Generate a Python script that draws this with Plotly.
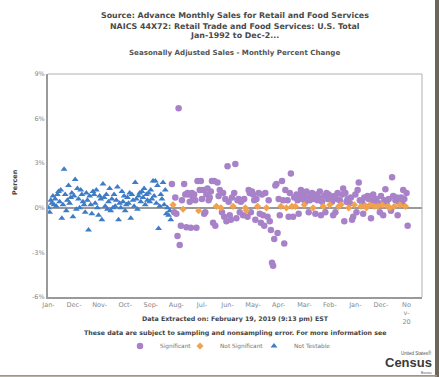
import plotly.graph_objects as go

# ---- data ----
# Not Testable (Jan-1992 .. Mar-2001), monthly % change
nt_1992 = [0.0, -0.3, 0.5, 0.3, 0.8, 0.2, 0.6, 0.1, 0.9, 1.1, 0.4, 1.2]
nt_1993 = [-0.7, 0.2, 2.6, 0.9, -0.2, 0.5, 1.5, 0.3, 0.7, 1.0, -0.6, 0.8]
nt_1994 = [1.9, -0.1, 1.3, 0.6, 0.0, 1.2, 0.9, 0.4, 0.2, -0.3, 1.0, 0.5]
nt_1995 = [-1.5, 0.8, 0.2, -0.4, 1.1, 0.9, 0.3, 1.2, 0.0, -0.5, 0.8, 0.6]
nt_1996 = [-0.8, 1.6, 0.7, 0.1, 0.9, -0.1, 0.4, 1.3, -0.2, 0.6, 0.0, 0.9]
nt_1997 = [0.1, 0.5, 1.4, -0.8, 0.3, 0.0, 1.1, 0.4, 0.8, -0.2, 0.2, 0.7]
nt_1998 = [0.3, 1.0, -0.7, 0.9, 0.5, 0.1, 1.7, 0.6, -0.1, 0.8, 1.0, 0.4]
nt_1999 = [1.1, 0.7, 1.3, 0.2, 0.9, 0.5, 1.0, 0.4, 1.2, 0.6, 1.8, 0.8]
nt_2000 = [1.8, 0.3, 1.5, -1.4, 0.1, 0.9, 0.6, 1.7, 0.2, 1.2, -0.4, 0.0]
nt_2001 = [-0.5, -0.2, -0.8]
not_testable = (nt_1992 + nt_1993 + nt_1994 + nt_1995 + nt_1996 + nt_1997
                + nt_1998 + nt_1999 + nt_2000 + nt_2001)

# Tested months (Apr-2001 .. Dec-2018): value and significance flag
tested_vals = [
    1.6, 0.2, -0.3, 0.7, -0.4, -1.9, 6.7, -2.5, -1.2, 0.5,
    -0.1, 1.6, 0.9, -1.3, 1.0, 0.9, 0.4, -1.35, 1.0, 0.7,
    0.9, 0.5, -1.35, 1.8, -0.2, 1.2, 1.8, 0.6, 1.2, -0.4,
    -0.3, 0.9, 1.3, 0.5, 0.7, 1.1, 1.8, -1.0, 1.8, -1.2,
    0.1, 1.7, 0.8, 1.2, 0.0, -0.3, 1.0, -0.6, 0.6, -0.9,
    2.8, 0.4, -0.5, -0.8, 0.7, 0.1, 1.0, 2.95, -0.7, 0.5,
    0.6, -0.3, 0.4, 0.5, -0.5, 0.6, 0.0, -0.2, -0.6, 1.2,
    1.0, -0.3, 1.1, 0.9, 0.5, -0.8, 0.6, 0.1, 1.0, -0.4,
    -1.0, 0.9, -0.5, -1.2, 1.0, 0.0, -0.6, 0.5, -0.9, -1.5,
    -3.7, -3.9, -2.1, 1.5, 1.6, -1.7, 0.6, -0.5, 0.1, 1.8,
    0.5, -2.4, 1.2, 0.0, 0.5, -0.6, 1.0, 2.3, 0.1, -0.6,
    0.7, 0.1, 0.9, 0.5, -0.4, 0.8, 1.2, 0.6, 0.9, 0.2,
    0.4, 1.1, 0.7, -0.3, 0.5, 0.8, 1.0, 0.0, 0.6, -0.4,
    0.9, 0.5, 0.7, 1.1, -0.5, 0.4, 0.1, 0.8, -0.3, 1.0,
    0.6, 0.9, 0.2, 0.7, 0.4, -0.5, 0.8, -0.3, 0.6, 1.0,
    0.1, 0.5, 0.2, 0.9, 1.3, -0.9, 1.0, 0.4, 0.6, 0.0,
    0.3, 0.7, -0.8, -0.6, 0.2, 0.9, -0.3, 1.2, 1.7, 0.5,
    0.1, 0.4, -0.4, 0.7, 0.15, 0.0, 0.8, 0.6, 0.2, -0.7,
    0.5, 0.9, 0.1, 0.4, 0.6, 0.1, 0.3, -0.3, 0.8, 0.2,
    -0.5, 0.5, 1.25, 0.3, 0.1, 0.6, 0.0, -0.2, 2.05, 0.8,
    0.1, 0.5, 0.7, -0.5, 0.4, 0.2, 0.7, 0.3, 1.2, 0.6,
    0.1, 1.0, -1.2,
]
tested_sig = [
    1, 0, 1, 1, 1, 1, 1, 1, 1, 1,
    0, 1, 1, 1, 1, 1, 1, 1, 1, 1,
    1, 1, 1, 1, 0, 1, 1, 1, 1, 1,
    1, 1, 1, 1, 1, 1, 1, 1, 1, 1,
    0, 1, 1, 1, 0, 1, 1, 1, 1, 1,
    1, 1, 1, 1, 1, 0, 1, 1, 1, 1,
    1, 1, 1, 1, 1, 1, 0, 0, 1, 1,
    1, 1, 1, 1, 1, 1, 1, 0, 1, 1,
    1, 1, 1, 1, 1, 0, 1, 1, 1, 1,
    1, 1, 1, 1, 1, 1, 1, 1, 0, 1,
    1, 1, 1, 0, 1, 1, 1, 1, 0, 1,
    1, 0, 1, 1, 1, 1, 1, 1, 1, 0,
    1, 1, 1, 1, 1, 1, 1, 0, 1, 1,
    1, 1, 1, 1, 1, 1, 0, 1, 1, 1,
    1, 1, 0, 1, 1, 1, 1, 1, 1, 1,
    0, 1, 0, 1, 1, 1, 1, 1, 1, 0,
    1, 1, 1, 1, 0, 1, 1, 1, 1, 1,
    0, 1, 1, 1, 0, 0, 1, 1, 0, 1,
    1, 1, 0, 1, 1, 0, 1, 1, 1, 0,
    1, 1, 1, 1, 0, 1, 0, 1, 1, 1,
    0, 1, 1, 1, 1, 0, 1, 1, 1, 1,
    0, 1, 1,
]

tick_months = [0, 23, 46, 69, 92, 115, 138, 161, 184, 207, 230, 253, 276, 299, 322]
tick_labels = ["Jan-", "Dec-", "Nov-", "Oct-", "Sep-", "Aug-", "Jul-", "Jun-",
               "May-", "Apr-", "Mar-", "Feb-", "Jan-", "Dec-", "No<br>v-<br>20"]
y_ticks = [-6, -3, 0, 3, 6, 9]
y_labels = ["-6%", "-3%", "0%", "3%", "6%", "9%"]

# ---- build ----
nt_x = list(range(len(not_testable)))
start = len(not_testable)
sig_x = [start + i for i, s in enumerate(tested_sig) if s == 1]
sig_y = [v for v, s in zip(tested_vals, tested_sig) if s == 1]
ns_x = [start + i for i, s in enumerate(tested_sig) if s == 0]
ns_y = [v for v, s in zip(tested_vals, tested_sig) if s == 0]

PURPLE = "#a882c8"
ORANGE = "#f3a14d"
BLUE = "#3e7cc6"
FONT = "DejaVu Sans"

fig = go.Figure()
fig.add_trace(go.Scatter(x=nt_x, y=not_testable, mode="markers", name="Not Testable",
                         legendrank=3, legendwidth=60,
                         marker=dict(symbol="triangle-up", size=6, color=BLUE)))
fig.add_trace(go.Scatter(x=sig_x, y=sig_y, mode="markers", name="Significant",
                         legendrank=1, legendwidth=15,
                         marker=dict(symbol="circle", size=6.5, color=PURPLE)))
fig.add_trace(go.Scatter(x=ns_x, y=ns_y, mode="markers", name="Not Significant",
                         legendrank=2, legendwidth=29,
                         marker=dict(symbol="diamond", size=5.5, color=ORANGE)))

L, R, T, B = 48, 17, 74, 80
W, H = 439, 377
PW, PH = W - L - R, H - T - B

def px(xp):
    return (xp - L) / PW

def py(yp):
    return (H - B - yp) / PH

fig.update_layout(
    width=W, height=H, autosize=False,
    margin=dict(l=L, r=R, t=T, b=B, pad=0),
    paper_bgcolor="white", plot_bgcolor="white",
    font=dict(family=FONT, color="#777"),
    showlegend=True,
    legend=dict(orientation="h", x=px(120), xanchor="left", y=py(346), yanchor="middle",
                font=dict(size=5.8, color="#777", family=FONT), itemwidth=30,
                entrywidthmode="pixels",
                bgcolor="rgba(0,0,0,0)", tracegroupgap=0),
    xaxis=dict(range=[-0.45, 335.9], tickmode="array", tickvals=tick_months,
               ticktext=tick_labels, showgrid=False, zeroline=False,
               showline=True, linecolor="#9a9a9a", linewidth=2, ticks="",
               tickfont=dict(size=6.5, color="#888", family=FONT), tickangle=0),
    yaxis=dict(range=[-6, 9], tickmode="array", tickvals=y_ticks, ticktext=y_labels,
               showgrid=False, zeroline=True, zerolinecolor="#999", zerolinewidth=2,
               showline=True, linecolor="#9a9a9a", linewidth=2, ticks="",
               tickfont=dict(size=6.5, color="#888", family=FONT)),
)

# light frame on top/right
fig.add_shape(type="line", xref="paper", yref="paper", x0=0, x1=1, y0=1, y1=1,
              line=dict(color="#b0b0b0", width=1))
fig.add_shape(type="line", xref="paper", yref="paper", x0=1, x1=1, y0=0, y1=1,
              line=dict(color="#b0b0b0", width=1))
# outer picture frame (right edge and bottom edge)
fig.add_shape(type="rect", xref="paper", yref="paper", x0=px(435), x1=px(440),
              y0=py(377), y1=py(0), fillcolor="#6f6558", line=dict(width=0))
fig.add_shape(type="rect", xref="paper", yref="paper", x0=px(0), x1=px(437),
              y0=py(376.8), y1=py(375), fillcolor="#a09684", line=dict(width=0))

ann = []
title_lines = [
    ("Source: Advance Monthly Sales for Retail and Food Services", 16),
    ("NAICS 44X72: Retail Trade and Food Services: U.S. Total", 26),
    ("Jan-1992 to Dec-2...", 36),
]
for txt, yy in title_lines:
    ann.append(dict(text="<b>%s</b>" % txt, x=px(234.5), y=py(yy), font=dict(size=7.9, color="#4a4a4a")))
ann.append(dict(text="<b>Seasonally Adjusted Sales - Monthly Percent Change</b>", x=px(234), y=py(53),
                font=dict(size=7.1, color="#555")))
ann.append(dict(text="<b>Data Extracted on: February 19, 2019 (9:13 pm) EST</b>", x=px(235), y=py(319),
                font=dict(size=6.3, color="#444")))
ann.append(dict(text="<b>These data are subject to sampling and nonsampling error. For more information see</b>",
                x=px(235), y=py(333), font=dict(size=6.3, color="#444")))
ann.append(dict(text="<b>Percen</b>", x=px(15), y=py(182), textangle=-90, font=dict(size=6.5, color="#444")))
# Census logo
ann.append(dict(text="United States\u00ae", x=px(433), y=py(352.5), xanchor="right",
                font=dict(size=4.5, color="#555", family="Liberation Sans")))
ann.append(dict(text="<b>Census</b>", x=px(433), y=py(362.5), xanchor="right",
                font=dict(size=13, color="#3a3a3a", family="Liberation Sans")))
ann.append(dict(text="Bureau", x=px(433), y=py(373), xanchor="right",
                font=dict(size=3.3, color="#555", family="Liberation Sans")))
for a in ann:
    a.setdefault("xref", "paper")
    a.setdefault("yref", "paper")
    a.setdefault("showarrow", False)
    a.setdefault("yanchor", "middle")
    a.setdefault("xanchor", "center")
    a.setdefault("font", {})
    a["font"].setdefault("family", FONT)
    a.setdefault("borderpad", 0)
fig.update_layout(annotations=ann)

fig.write_html("out.html", config={"displayModeBar": False},
               post_script="document.body.style.margin='0px';")
